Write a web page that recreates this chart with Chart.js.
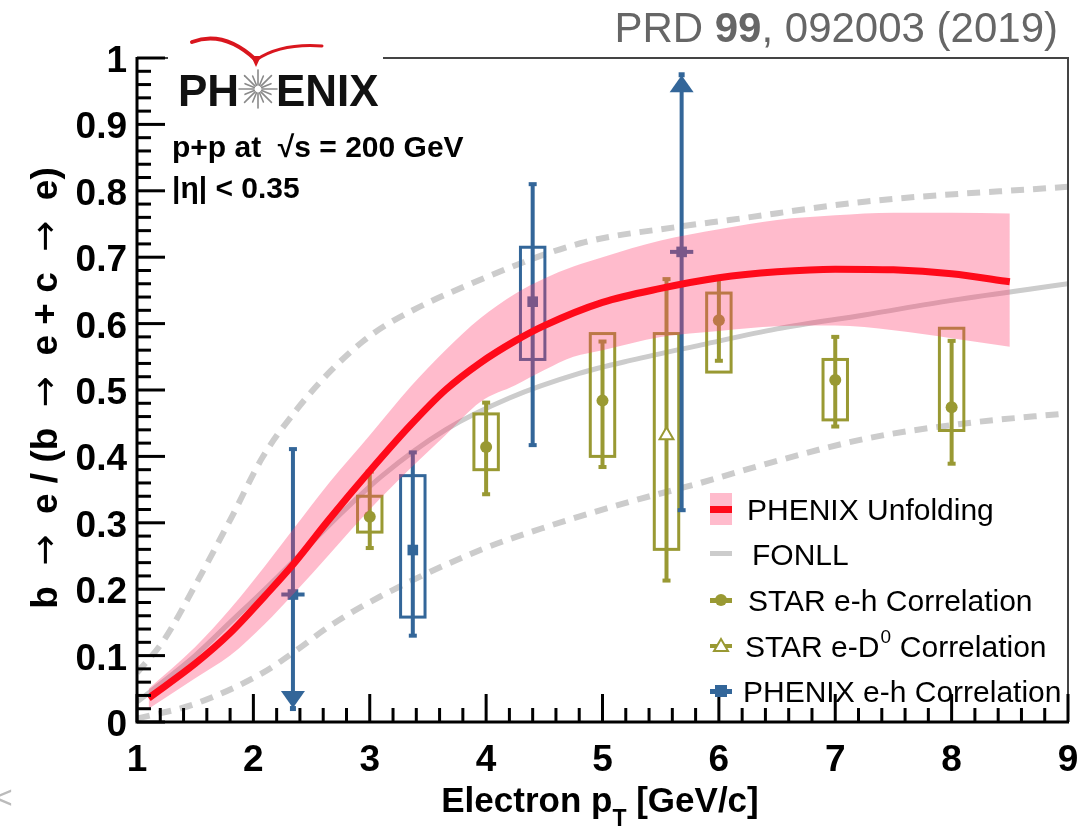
<!DOCTYPE html>
<html>
<head>
<meta charset="utf-8">
<title>b → e fraction</title>
<script src="https://cdn.jsdelivr.net/npm/chart.js@4.4.0/dist/chart.umd.min.js"></script>
<style>
  html, body { margin: 0; padding: 0; background: #fff; }
  canvas { display: block; }
</style>
</head>
<body>
<canvas id="bfrac" width="1091" height="830"></canvas>
<script>
// PHENIX unfolded b->e fraction: central curve and uncertainty band
const unfoldPt  = [1.1, 1.5, 1.8, 2.1, 2.35, 2.65, 3.0, 3.35, 3.65, 3.95, 4.25, 4.5, 5.0, 5.5, 6.0, 6.5, 7.0, 7.5, 8.0, 8.5];
const unfoldMid = [0.036, 0.088, 0.134, 0.190, 0.239, 0.305, 0.378, 0.447, 0.500, 0.541, 0.574, 0.597, 0.632, 0.653, 0.669, 0.678, 0.682, 0.681, 0.675, 0.663];

const bandPt    = [1.1, 1.5, 1.8, 2.1, 2.35, 2.65, 3.0, 3.35, 3.65, 3.95, 4.25, 4.5, 4.75, 5.0, 5.5, 6.0, 6.5, 7.0, 7.5, 8.0, 8.5];
const bandHigh  = [0.050, 0.113, 0.170, 0.235, 0.292, 0.360, 0.432, 0.505, 0.560, 0.608, 0.645, 0.668, 0.686, 0.700, 0.725, 0.742, 0.756, 0.763, 0.767, 0.767, 0.766];
const bandLow   = [0.020, 0.066, 0.100, 0.148, 0.194, 0.252, 0.320, 0.382, 0.432, 0.482, 0.507, 0.530, 0.550, 0.560, 0.580, 0.589, 0.596, 0.597, 0.590, 0.578, 0.565];

// FONLL central value and its upper / lower edges
const fonllPt    = [1.0, 1.5, 1.8, 2.1, 2.4, 2.7, 3.1, 3.65, 4.2, 4.8, 5.25, 5.85, 6.5, 7.25, 8.0, 9.0];
const fonllMid   = [0.030, 0.100, 0.150, 0.200, 0.252, 0.305, 0.370, 0.440, 0.488, 0.525, 0.545, 0.568, 0.592, 0.613, 0.635, 0.660];
const fonllHiPt  = [1.0, 1.23, 1.51, 1.80, 2.08, 2.37, 2.66, 2.94, 3.17, 3.95, 4.81, 5.66, 6.09, 7.27, 9.0];
const fonllHigh  = [0.074, 0.123, 0.209, 0.304, 0.399, 0.470, 0.528, 0.573, 0.601, 0.666, 0.721, 0.746, 0.756, 0.784, 0.806];
const fonllLoPt  = [1.0, 1.51, 2.08, 2.37, 2.66, 3.09, 3.95, 4.52, 5.24, 5.84, 6.27, 7.27, 8.13, 9.0];
const fonllLow   = [0.005, 0.028, 0.074, 0.108, 0.145, 0.189, 0.259, 0.294, 0.332, 0.360, 0.382, 0.427, 0.450, 0.465];

// STAR e-h correlation
const starPt     = [3, 4, 5, 6, 7, 8];
const starVal    = [0.309, 0.414, 0.484, 0.605, 0.515, 0.474];
const starStatLo = [0.262, 0.343, 0.384, 0.544, 0.445, 0.389];
const starStatHi = [0.377, 0.481, 0.573, 0.670, 0.580, 0.574];
const starSysLo  = [0.286, 0.380, 0.400, 0.527, 0.455, 0.439];
const starSysHi  = [0.340, 0.464, 0.585, 0.646, 0.546, 0.593];

// STAR e-D0 correlation
const d0Pt     = [5.55];
const d0Val    = [0.432];
const d0StatLo = [0.213];
const d0StatHi = [0.667];
const d0SysLo  = [0.260];
const d0SysHi  = [0.585];

// PHENIX e-h correlation (first point lower limit open, last point upper limit open)
const phxPt      = [2.34, 3.37, 4.40, 5.68];
const phxVal     = [0.192, 0.259, 0.633, 0.708];
const phxStatLo  = [0.018, 0.130, 0.417, 0.319];
const phxStatHi  = [0.411, 0.406, 0.810, 0.977];
const phxSysLo   = [null, 0.158, 0.546, null];
const phxSysHi   = [null, 0.371, 0.715, null];
const phxPtErr   = [0.1, 0, 0, 0.1];
const phxArrowLo = [true, false, false, false];
const phxArrowHi = [false, false, false, true];

const xTickLabels = ['1', '2', '3', '4', '5', '6', '7', '8', '9'];
const yTickLabels = ['0', '0.1', '0.2', '0.3', '0.4', '0.5', '0.6', '0.7', '0.8', '0.9', '1'];

const OLIVE = '#999933', BLUE = '#336699', RED = '#ff0a1a', GRAY = '#cccccc';
const BAND = 'rgba(255, 60, 110, 0.35)';
const FONT = "'Liberation Sans', Arial, Helvetica, sans-serif";
const SYS_HALF = 0.105; // half width of systematic boxes in pT

const pts = (xs, ys) => xs.map((x, i) => ({x: x, y: ys[i]}));

const curve = (data, color, width, dash, order) => ({
  type: 'line', data: data, borderColor: color, borderWidth: width, borderDash: dash || [],
  pointRadius: 0, fill: false, tension: 0.4, cubicInterpolationMode: 'monotone', order: order
});

const errorGroups = [
  {pt: starPt, val: starVal, lo: starStatLo, hi: starStatHi, sysLo: starSysLo, sysHi: starSysHi, color: OLIVE},
  {pt: d0Pt, val: d0Val, lo: d0StatLo, hi: d0StatHi, sysLo: d0SysLo, sysHi: d0SysHi, color: OLIVE},
  {pt: phxPt, val: phxVal, lo: phxStatLo, hi: phxStatHi, sysLo: phxSysLo, sysHi: phxSysHi, color: BLUE,
   ptErr: phxPtErr, arrowLo: phxArrowLo, arrowHi: phxArrowHi}
];

function drawErrors(chart) {
  const {ctx, scales: {x, y}} = chart;
  const half = x.getPixelForValue(1 + SYS_HALF) - x.getPixelForValue(1);
  ctx.save();
  for (const g of errorGroups) {
    ctx.strokeStyle = g.color;
    ctx.fillStyle = g.color;
    g.pt.forEach((pt, i) => {
      const cx = x.getPixelForValue(pt);
      const yc = y.getPixelForValue(g.val[i]);
      const yl = y.getPixelForValue(g.lo[i]);
      const yh = y.getPixelForValue(g.hi[i]);
      const down = g.arrowLo && g.arrowLo[i];
      const up = g.arrowHi && g.arrowHi[i];
      // systematic box
      if (g.sysLo[i] != null) {
        ctx.lineWidth = 3;
        const t = y.getPixelForValue(g.sysHi[i]), b = y.getPixelForValue(g.sysLo[i]);
        ctx.strokeRect(cx - half, t, 2 * half, b - t);
      }
      // statistical bar
      ctx.lineWidth = 4;
      ctx.beginPath();
      ctx.moveTo(cx, down ? yl - 16 : yl);
      ctx.lineTo(cx, up ? yh + 16 : yh);
      ctx.stroke();
      if (!down) ctx.fillRect(cx - 4, yl - 2, 8, 4);
      if (!up) ctx.fillRect(cx - 4, yh - 2, 8, 4);
      if (down) {
        ctx.beginPath();
        ctx.moveTo(cx - 12, yl - 19); ctx.lineTo(cx + 12, yl - 19); ctx.lineTo(cx, yl - 2);
        ctx.closePath(); ctx.fill();
        ctx.fillRect(cx - 3, yl - 4, 6, 5);
      }
      if (up) {
        ctx.beginPath();
        ctx.moveTo(cx - 12, yh + 19); ctx.lineTo(cx + 12, yh + 19); ctx.lineTo(cx, yh + 2);
        ctx.closePath(); ctx.fill();
        ctx.fillRect(cx - 3, yh - 1, 6, 5);
      }
      // pT bin bar where no box is drawn
      if (g.ptErr && g.ptErr[i] > 0) {
        ctx.beginPath();
        ctx.moveTo(x.getPixelForValue(pt - g.ptErr[i]), yc);
        ctx.lineTo(x.getPixelForValue(pt + g.ptErr[i]), yc);
        ctx.stroke();
      }
    });
  }
  ctx.restore();
}

function text(ctx, str, x, y, font, color, align) {
  ctx.font = font;
  ctx.fillStyle = color || '#000';
  ctx.textAlign = align || 'left';
  ctx.textBaseline = 'alphabetic';
  ctx.fillText(str, x, y);
  return ctx.measureText(str).width;
}

// draws a run of [string, font] pieces centred on x
function runCentered(ctx, pieces, x, y) {
  let total = 0;
  for (const [s, f] of pieces) { ctx.font = f; total += ctx.measureText(s).width; }
  let sx = x - total / 2;
  for (const [s, f] of pieces) sx += text(ctx, s, sx, y, f);
}

function drawLogo(ctx) {
  ctx.save();
  ctx.fillStyle = '#fff';
  ctx.fillRect(168, 24, 215, 92);
  // red wings
  ctx.strokeStyle = '#d9161e';
  ctx.lineCap = 'round';
  ctx.lineWidth = 4;
  ctx.beginPath();
  ctx.moveTo(192, 42);
  ctx.quadraticCurveTo(224, 30, 256, 60);
  ctx.stroke();
  ctx.lineWidth = 3;
  ctx.beginPath();
  ctx.moveTo(256, 60);
  ctx.quadraticCurveTo(281, 43, 322, 46);
  ctx.stroke();
  ctx.fillStyle = '#d9161e';
  ctx.beginPath();
  ctx.moveTo(251, 56); ctx.lineTo(261, 56); ctx.lineTo(256, 67);
  ctx.closePath(); ctx.fill();
  // lettering with the star in place of the O
  text(ctx, 'PH', 178, 106, 'bold 44px ' + FONT, '#111');
  text(ctx, 'ENIX', 276, 106, 'bold 44px ' + FONT, '#111');
  ctx.strokeStyle = '#8a8a8a';
  ctx.lineWidth = 1.6;
  for (let k = 0; k < 16; k++) {
    const a = k * Math.PI / 8;
    const r = k % 2 ? 14 : 19;
    ctx.beginPath();
    ctx.moveTo(258 + 4 * Math.cos(a), 89 + 4 * Math.sin(a));
    ctx.lineTo(258 + r * Math.cos(a), 89 + r * Math.sin(a));
    ctx.stroke();
  }
  ctx.restore();
}

function drawLegend(ctx) {
  const x0 = 710, x1 = 732, xm = 721;
  ctx.save();
  ctx.fillStyle = BAND;
  ctx.fillRect(x0, 493, x1 - x0, 32);
  ctx.fillStyle = RED;
  ctx.fillRect(x0, 506, x1 - x0, 7);
  ctx.fillStyle = GRAY;
  ctx.fillRect(x0, 551, x1 - x0, 5);
  ctx.fillStyle = OLIVE;
  ctx.fillRect(x0, 598, x1 - x0, 5);
  ctx.beginPath(); ctx.arc(xm, 600, 6, 0, 2 * Math.PI); ctx.fill();
  ctx.fillRect(x0, 644, x1 - x0, 4);
  ctx.fillStyle = '#fff';
  ctx.strokeStyle = OLIVE;
  ctx.lineWidth = 2;
  ctx.beginPath();
  ctx.moveTo(xm, 639); ctx.lineTo(xm + 7, 651); ctx.lineTo(xm - 7, 651); ctx.closePath();
  ctx.fill(); ctx.stroke();
  ctx.fillStyle = BLUE;
  ctx.fillRect(x0, 689, x1 - x0, 5);
  ctx.fillRect(xm - 6, 685, 12, 12);

  const f = '30px ' + FONT;
  text(ctx, 'PHENIX Unfolding', 747, 520, f);
  text(ctx, 'FONLL', 752, 565, f);
  text(ctx, 'STAR e-h Correlation', 748, 611, f);
  let w = text(ctx, 'STAR e-D', 745, 657, f);
  text(ctx, '0', 745 + w + 1, 643, '19px ' + FONT);
  text(ctx, ' Correlation', 745 + w + 12, 657, f);
  text(ctx, 'PHENIX e-h Correlation', 743, 702, f);
  ctx.restore();
}

const rootStyle = {
  id: 'rootStyle',
  beforeDraw(chart) {
    const ctx = chart.ctx;
    ctx.save();
    ctx.fillStyle = '#fff';
    ctx.fillRect(0, 0, chart.width, chart.height);
    ctx.restore();
  },
  beforeDatasetsDraw(chart) { chart.$errorsDone = false; },
  beforeDatasetDraw(chart, args) {
    if (chart.data.datasets[args.index].isMarker && !chart.$errorsDone) {
      drawErrors(chart);
      chart.$errorsDone = true;
    }
  },
  afterDatasetsDraw(chart) {
    const {ctx, chartArea: a, scales: {x, y}} = chart;
    ctx.save();
    // frame
    ctx.strokeStyle = '#444';
    ctx.lineWidth = 2;
    ctx.beginPath();
    ctx.moveTo(a.left, a.top); ctx.lineTo(a.right, a.top); ctx.lineTo(a.right, a.bottom);
    ctx.stroke();
    ctx.strokeStyle = '#000';
    ctx.lineWidth = 3;
    ctx.beginPath();
    ctx.moveTo(a.left, a.top - 1); ctx.lineTo(a.left, a.bottom); ctx.lineTo(a.right + 1, a.bottom);
    ctx.stroke();
    // inward ticks
    for (let i = 0; i <= 40; i++) {
      const px = x.getPixelForValue(1 + i * 0.2);
      const len = i % 5 === 0 ? 28 : 14;
      ctx.beginPath(); ctx.moveTo(px, a.bottom); ctx.lineTo(px, a.bottom - len); ctx.stroke();
    }
    for (let i = 0; i <= 50; i++) {
      const py = y.getPixelForValue(i * 0.02);
      const len = i % 5 === 0 ? 28 : 14;
      ctx.beginPath(); ctx.moveTo(a.left, py); ctx.lineTo(a.left + len, py); ctx.stroke();
    }
    ctx.restore();

    // tick labels
    const tf = 'bold 37px ' + FONT;
    xTickLabels.forEach(l => text(ctx, l, x.getPixelForValue(+l), 771, tf, '#000', 'center'));
    yTickLabels.forEach(l => text(ctx, l, a.left - 10, y.getPixelForValue(+l) + 14, tf, '#000', 'right'));

    // axis titles
    const af = 'bold 35px ' + FONT;
    ctx.font = af;
    const part1 = 'Electron p', part2 = ' [GeV/c]';
    const w1 = ctx.measureText(part1).width, w2 = ctx.measureText(part2).width;
    ctx.font = 'bold 23px ' + FONT;
    const wt = ctx.measureText('T').width;
    let sx = 600 - (w1 + wt + w2) / 2;
    sx += text(ctx, part1, sx, 812, af);
    sx += text(ctx, 'T', sx, 826, 'bold 23px ' + FONT);
    text(ctx, part2, sx, 812, af);

    ctx.save();
    ctx.translate(57, 388);
    ctx.rotate(-Math.PI / 2);
    const yf = 'bold 37px ' + FONT, arrow = '37px "DejaVu Sans", ' + FONT;
    runCentered(ctx, [
      ['b  ', yf], ['→', arrow], ['  e / (b  ', yf], ['→', arrow],
      ['  e + c  ', yf], ['→', arrow], ['  e)', yf]
    ], 0, 0);
    ctx.restore();

    drawLogo(ctx);

    // collision system
    const bf = 'bold 30px ' + FONT;
    text(ctx, 'p+p at  √s = 200 GeV', 172, 157, bf);
    text(ctx, '|η| < 0.35', 172, 198, bf);

    drawLegend(ctx);

    // journal reference
    const rf = '42px ' + FONT, rb = 'bold 42px ' + FONT;
    ctx.font = rf;
    const wa = ctx.measureText('PRD ').width, wc = ctx.measureText(', 092003 (2019)').width;
    ctx.font = rb;
    const wb = ctx.measureText('99').width;
    let rx = 1058 - (wa + wb + wc);
    rx += text(ctx, 'PRD ', rx, 42, rf, '#666');
    rx += text(ctx, '99', rx, 42, rb, '#666');
    text(ctx, ', 092003 (2019)', rx, 42, rf, '#666');

    text(ctx, '<', -6, 808, '32px ' + FONT, '#bbbbbb');
  }
};

new Chart(document.getElementById('bfrac'), {
  type: 'scatter',
  data: {
    datasets: [
      curve(pts(fonllHiPt, fonllHigh), GRAY, 6, [13, 9], 10),
      curve(pts(fonllLoPt, fonllLow), GRAY, 6, [13, 9], 10),
      curve(pts(fonllPt, fonllMid), GRAY, 5, null, 10),
      {type: 'scatter', isMarker: true, data: pts(starPt, starVal), pointStyle: 'circle', pointRadius: 6,
       backgroundColor: OLIVE, borderColor: OLIVE, borderWidth: 0, order: 5},
      {type: 'scatter', isMarker: true, data: pts(d0Pt, d0Val), pointStyle: 'triangle', pointRadius: 8,
       backgroundColor: '#fff', borderColor: OLIVE, borderWidth: 2, order: 5},
      {type: 'scatter', isMarker: true, data: pts(phxPt, phxVal), pointStyle: 'rect', pointRadius: 7.5,
       backgroundColor: BLUE, borderColor: BLUE, borderWidth: 0, order: 5},
      {type: 'line', data: pts(bandPt, bandHigh), borderWidth: 0, borderColor: 'rgba(0,0,0,0)', pointRadius: 0,
       backgroundColor: BAND, fill: '+1', tension: 0.4, cubicInterpolationMode: 'monotone', order: 2},
      {type: 'line', data: pts(bandPt, bandLow), borderWidth: 0, borderColor: 'rgba(0,0,0,0)', pointRadius: 0,
       fill: false, tension: 0.4, cubicInterpolationMode: 'monotone', order: 2},
      curve(pts(unfoldPt, unfoldMid), RED, 7, null, 1)
    ]
  },
  options: {
    responsive: false,
    animation: false,
    layout: {padding: {left: 137, right: 23, top: 58, bottom: 108}},
    scales: {
      x: {type: 'linear', min: 1, max: 9, display: false},
      y: {type: 'linear', min: 0, max: 1, display: false}
    },
    plugins: {legend: {display: false}, tooltip: {enabled: false}}
  },
  plugins: [rootStyle]
});
</script>
</body>
</html>
